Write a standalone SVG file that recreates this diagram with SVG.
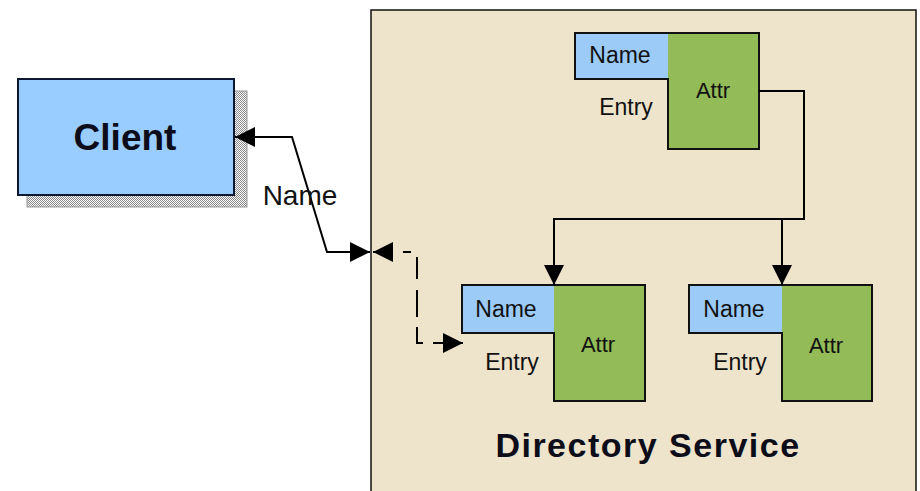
<svg xmlns="http://www.w3.org/2000/svg" width="920" height="491" viewBox="0 0 920 491">
  <defs>
    <pattern id="dither" width="2" height="2" patternUnits="userSpaceOnUse">
      <rect width="2" height="2" fill="#ffffff"/>
      <rect width="1" height="1" fill="#8a8a8a"/>
      <rect x="1" y="1" width="1" height="1" fill="#8a8a8a"/>
    </pattern>
    <marker id="arrow" markerUnits="userSpaceOnUse" markerWidth="22" markerHeight="20" refX="20" refY="10" orient="auto-start-reverse" viewBox="0 0 22 20">
      <path d="M0,0 L20,10 L0,20 Z" fill="#000"/>
    </marker>
    <style>
      .lbl { font-family: "Liberation Sans", Arial, sans-serif; fill: #111; }
      .title { font-family: "Liberation Sans", Arial, sans-serif; font-weight: bold; fill: #0d0d1a; }
      .name { fill: #9ccbf8; }
      .attr { fill: #93bb58; }
      .outline { fill: none; stroke: #111; stroke-width: 2; }
      .conn { fill: none; stroke: #000; stroke-width: 2; }
    </style>
  </defs>

  <rect width="920" height="491" fill="#ffffff"/>

  <!-- Directory Service container -->
  <g id="directory-service">
    <rect x="371" y="10" width="545" height="490" fill="#eee3cb" stroke="#111" stroke-width="1.5"/>
    <text class="title" x="648" y="457" font-size="34" letter-spacing="1.5" text-anchor="middle">Directory Service</text>
  </g>

  <!-- Client -->
  <g id="client">
    <rect x="27" y="91" width="220" height="116" fill="url(#dither)" stroke="#9a9a9a" stroke-width="1"/>
    <rect x="18" y="79" width="216" height="116" fill="#99ccff" stroke="#0d1730" stroke-width="2"/>
    <text class="title" x="125" y="150" font-size="37" text-anchor="middle">Client</text>
  </g>

  <!-- Top entry -->
  <g id="entry-top">
    <rect class="name" x="575" y="33" width="93" height="46"/>
    <rect class="attr" x="668" y="33" width="91" height="116"/>
    <path class="outline" d="M575,33 H759 V149 H668 V79 H575 Z"/>
    <text class="lbl" x="620" y="63" font-size="23" text-anchor="middle">Name</text>
    <text class="lbl" x="713" y="98" font-size="22" text-anchor="middle">Attr</text>
    <text class="lbl" x="626" y="115" font-size="23" text-anchor="middle">Entry</text>
  </g>

  <!-- Lower left entry -->
  <g id="entry-left">
    <rect class="name" x="462" y="285" width="92" height="48"/>
    <rect class="attr" x="554" y="285" width="91" height="116"/>
    <path class="outline" d="M462,285 H645 V401 H554 V333 H462 Z"/>
    <text class="lbl" x="506" y="317" font-size="23" text-anchor="middle">Name</text>
    <text class="lbl" x="598" y="352" font-size="22" text-anchor="middle">Attr</text>
    <text class="lbl" x="512" y="370" font-size="23" text-anchor="middle">Entry</text>
  </g>

  <!-- Lower right entry -->
  <g id="entry-right">
    <rect class="name" x="689" y="285" width="93" height="48"/>
    <rect class="attr" x="782" y="285" width="90" height="116"/>
    <path class="outline" d="M689,285 H872 V401 H782 V333 H689 Z"/>
    <text class="lbl" x="734" y="317" font-size="23" text-anchor="middle">Name</text>
    <text class="lbl" x="826" y="353" font-size="22" text-anchor="middle">Attr</text>
    <text class="lbl" x="740" y="370" font-size="23" text-anchor="middle">Entry</text>
  </g>

  <!-- Connectors -->
  <g id="connectors">
    <path class="conn" d="M235,137 H292 L327,252 H370" marker-start="url(#arrow)" marker-end="url(#arrow)"/>
    <text class="lbl" x="300" y="205" font-size="28" text-anchor="middle">Name</text>
    <path class="conn" d="M373,252 H417 V343 H463" stroke-dasharray="20 10 8 11 22 11 27 10 22 10 30" marker-start="url(#arrow)" marker-end="url(#arrow)"/>
    <path class="conn" d="M759,91 H804 V219 H554 V285" marker-end="url(#arrow)"/>
    <path class="conn" d="M782,219 V285" marker-end="url(#arrow)"/>
  </g>
</svg>
